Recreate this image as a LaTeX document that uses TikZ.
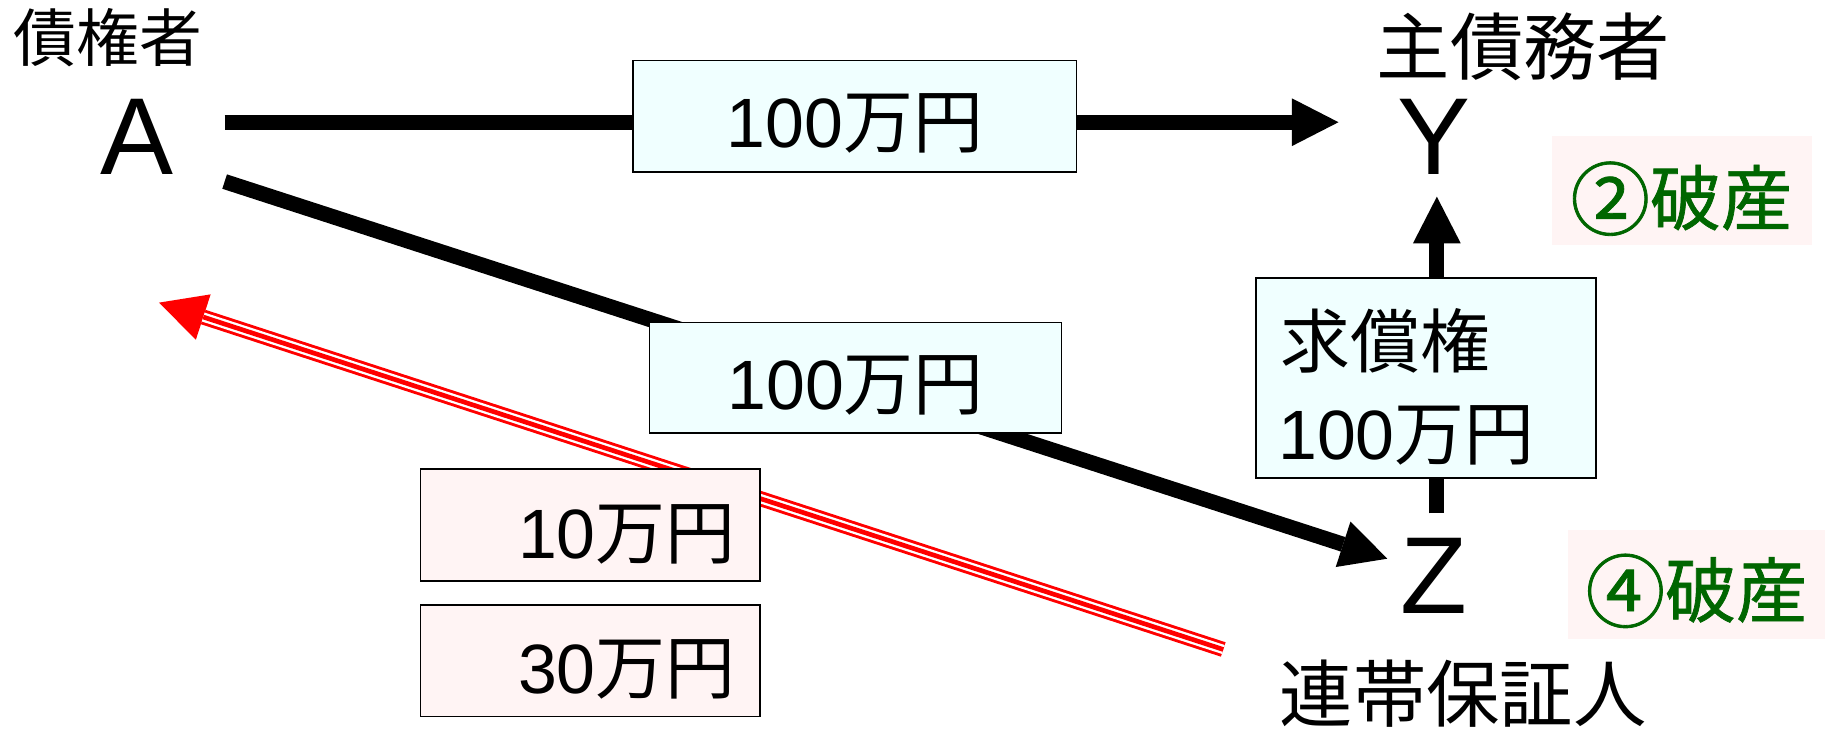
\documentclass[tikz,border=0pt]{standalone}
\usepackage{fontspec}
\usepackage{graphicx}
\setmainfont{Liberation Sans}
\newfontfamily\jp{Noto Sans CJK JP}
\newfontfamily\jpm[FakeBold=1]{Noto Sans CJK JP}
\usetikzlibrary{arrows.meta}
\definecolor{boxcyan}{HTML}{F0FFFF}
\definecolor{boxpink}{HTML}{FFF4F4}
\definecolor{textgreen}{HTML}{006600}
\begin{document}
\begin{tikzpicture}[x=1pt,y=-1pt,
  lbl/.style={inner sep=0pt, anchor=base, font=\fontsize{60}{70}\selectfont},
  big/.style={inner sep=0pt, anchor=base, font=\fontsize{94}{100}\selectfont},
  role/.style={inner sep=0pt, anchor=base, font=\fontsize{63}{70}\selectfont\jp},
  status/.style={inner sep=0pt, anchor=base, text=textgreen, font=\fontsize{61}{70}\selectfont\jpm},
  cbox/.style={draw=black, line width=1.5pt, fill=boxcyan, inner sep=0pt},
  pbox/.style={draw=black, line width=1.5pt, fill=boxpink, inner sep=0pt},
  sbox/.style={fill=boxpink, inner sep=0pt},
  blackarrow/.style={line width=13pt, -{Triangle[length=40pt,width=41pt,line width=0pt]}},
  tip/.style={-{Triangle[length=40pt,width=41pt,line width=0pt]}},
]
\useasboundingbox (0,0) rectangle (1568,627);

% labels of parties
\node[role, font=\fontsize{54}{60}\selectfont\jp] (cre) at (93,53) {債権者};
\node[big] (A) at (118,150) {A};
\node[role] (deb) at (1309,64) {主債務者};
\node[big] (Y) at (1232,150) {Y};
\node[big] (Z) at (1232,527) {Z};
\node[role] (gua) at (1257,620) {連帯保証人};

% connector end points
\coordinate (ay1) at (193,105);
\coordinate (ay2) at (1150,105);
\coordinate (az1) at (193,156);
\coordinate (az2) at (1192,480);
\coordinate (zy1) at (1234.5,441);
\coordinate (zy2) at (1234.5,169);
\coordinate (rs) at (1051,558);
\coordinate (rt) at (136.6,260);

% red compound arrow
\draw[red, line width=13pt, tip] (rs) -- (rt);
\draw[white, line width=8pt, shorten >=40pt] (rs) -- (rt);
\draw[red, line width=4pt, shorten >=40pt] (rs) -- (rt);

% black arrows
\draw[blackarrow] (ay1) -- (ay2);
\draw[blackarrow] (az1) -- (az2);
\draw[blackarrow] (zy1) -- (zy2);

% boxes
\node[cbox, minimum width=381pt, minimum height=96pt] (b1) at (734.5,100) {};
\node[lbl] (t1) at (734.5,127) {100{\jp 万円}};
\node[cbox, minimum width=354pt, minimum height=95pt] (b2) at (735,324.5) {};
\node[lbl] (t2) at (735,352) {100{\jp 万円}};
\node[cbox, minimum width=292pt, minimum height=171.5pt] (b3) at (1225,324.75) {};
\node[lbl, anchor=base west] (t3a) at (1100,316) {\jp 求償権};
\node[lbl, anchor=base west] (t3b) at (1098,395) {100{\jp 万円}};
\node[pbox, minimum width=292pt, minimum height=96pt] (b4) at (507.25,451) {};
\node[lbl, anchor=base east] (t4) at (632,480) {10{\jp 万円}};
\node[pbox, minimum width=292pt, minimum height=96pt] (b5) at (507.25,567.5) {};
\node[lbl, anchor=base east] (t5) at (632,596) {30{\jp 万円}};

% status boxes
\node[sbox, minimum width=224pt, minimum height=93.5pt] (s1) at (1445,163.75) {};
\node[status] (st1) at (1444.5,193) {\raisebox{-0.06em}{\scalebox{1.12}{②}}破産};
\node[sbox, minimum width=221pt, minimum height=94pt] (s2) at (1457.5,502) {};
\node[status] (st2) at (1457.5,530) {\raisebox{-0.06em}{\scalebox{1.12}{④}}破産};
\end{tikzpicture}
\end{document}
